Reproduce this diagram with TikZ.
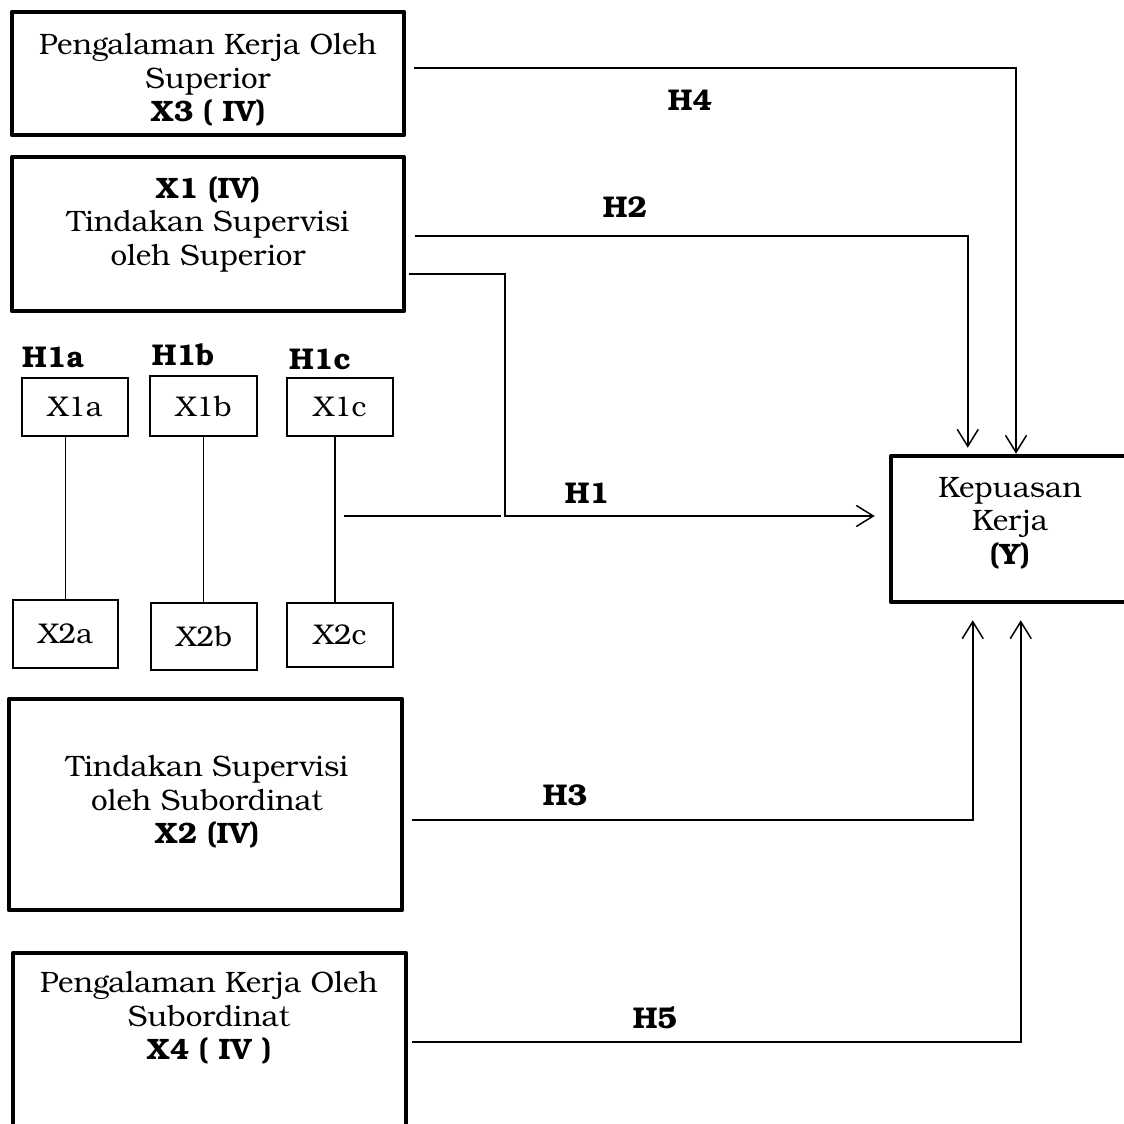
\documentclass[tikz,border=0pt]{standalone}
\usepackage{fontspec}
\setmainfont{TeX Gyre Bonum}
\usetikzlibrary{arrows.meta,calc}
\begin{document}
\begin{tikzpicture}[x=1pt,y=-1pt,
  bigbox/.style={draw,line width=4.5pt,line join=round,inner sep=0pt},
  smallbox/.style={draw,line width=1.3pt,inner sep=0pt,font=\fontsize{28.5}{32}\selectfont},
  txt/.style={align=center,inner sep=0pt,font=\fontsize{29.5}{33.5}\selectfont},
  hlab/.style={inner sep=0pt,font=\fontsize{30}{32}\selectfont\bfseries},
  conn/.style={line width=1.6pt},
  arr/.style={-{Straight Barb[length=17pt,width=21pt,line width=1.5pt]}}]
\clip (0,0) rectangle (1124,1124);
\fill[white] (0,0) rectangle (1124,1124);
% big boxes
\node[bigbox,minimum width=392pt,minimum height=123pt] (X3) at (208,73.5) {};
\node[bigbox,minimum width=392pt,minimum height=154pt] (X1) at (208,234) {};
\node[bigbox,minimum width=393pt,minimum height=211pt] (X2) at (205.5,804.5) {};
\node[bigbox,minimum width=393pt,minimum height=190pt] (X4) at (209.5,1048) {};
\node[bigbox,minimum width=250pt,minimum height=146pt] (Y) at (1016,529) {};
% box texts
\node[txt] (X3t) at (208,80) {Pengalaman Kerja Oleh\\Superior\\\textbf{X3 ( IV)}};
\node[txt] (X1t) at (208,224) {\textbf{X1 (IV)}\\Tindakan Supervisi\\oleh Superior};
\node[txt] (X2t) at (207,802) {Tindakan Supervisi\\oleh Subordinat\\\textbf{X2 (IV)}};
\node[txt] (X4t) at (209,1018) {Pengalaman Kerja Oleh\\Subordinat\\\textbf{X4 ( IV )}};
\node[txt] (Yt) at (1010,523) {Kepuasan\\Kerja\\\textbf{(Y)}};
% small boxes
\node[smallbox,minimum width=106pt,minimum height=58pt] (X1a) at (75,407) {X1a};
\node[smallbox,minimum width=107pt,minimum height=60pt] (X1b) at (203.5,406) {X1b};
\node[smallbox,minimum width=106pt,minimum height=58pt] (X1c) at (340,407) {X1c};
\node[smallbox,minimum width=105pt,minimum height=68pt] (X2a) at (65.5,634) {X2a};
\node[smallbox,minimum width=106pt,minimum height=67pt] (X2b) at (204,636.5) {X2b};
\node[smallbox,minimum width=106pt,minimum height=64pt] (X2c) at (340,635) {X2c};
% hypothesis labels
\node[hlab] (H1a) at (53,357) {H1a};
\node[hlab] (H1b) at (183,355) {H1b};
\node[hlab] (H1c) at (320,359) {H1c};
\node[hlab] (H4) at (690,100) {H4};
\node[hlab] (H2) at (625,207) {H2};
\node[hlab] (H1) at (587,493) {H1};
\node[hlab] (H3) at (565,795) {H3};
\node[hlab] (H5) at (655,1018) {H5};
% small box links
\draw[conn] (X2a.north |- X1a.south) -- (X2a.north);
\draw[conn] (X1b.south) -- (X1b.south |- X2b.north);
\draw[conn] ($(X1c.south)+(-5,0)$) -- ($(X2c.north)+(-5,0)$);
% connectors
\coordinate (h1s) at ($(X1c.east)+(-50,109)$);
\coordinate (h1e) at ($(X1c.east)+(107,109)$);
\draw[conn] (h1s) -- (h1e);
\draw[conn,arr] ($(X3.east)+(8,-5.5)$) -| (Y.north);
\draw[conn,arr] ($(X1.east)+(9,2)$) -| ($(Y.north west)+(79,-6)$);
\draw[conn,arr] ($(X1.east)+(3,40)$) -- ++(96,0) |- ($(Y.west)+(-14,-13)$);
\draw[conn,arr] ($(X2.east)+(8,15.5)$) -| ($(Y.south west)+(84,16)$);
\draw[conn,arr] ($(X4.east)+(4,-6)$) -| ($(Y.south west)+(132,16)$);
\end{tikzpicture}
\end{document}
